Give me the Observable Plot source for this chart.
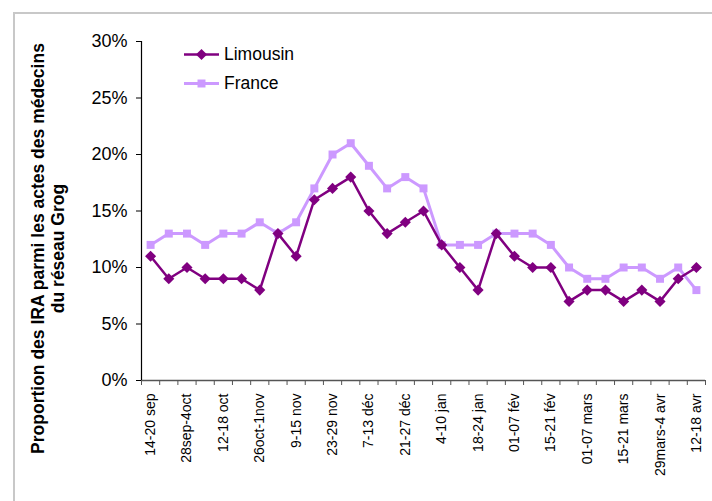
<!DOCTYPE html>
<html>
<head>
<meta charset="utf-8">
<script src="https://cdn.jsdelivr.net/npm/d3@7"></script>
<script src="https://cdn.jsdelivr.net/npm/@observablehq/plot@0.6"></script>
<style>
  html, body { margin: 0; padding: 0; background: #fff; overflow: hidden; }
  #wrap { position: relative; width: 712px; height: 501px; font-family: "Liberation Sans", Arial, sans-serif; }
  #frame { position: absolute; left: 13px; top: 12px; width: 760px; height: 560px; border: 2px solid #c8c8c8; box-sizing: border-box; }
  #chart { position: absolute; left: 0; top: 0; }
  #legend { position: absolute; left: 184px; top: 40px; font-size: 17.5px; color: #000; }
  .row { display: flex; align-items: center; height: 29px; }
  .row svg { margin-right: 5px; }
</style>
</head>
<body>
<div id="wrap"><div id="frame"></div><div id="chart"></div><div id="legend"></div></div>
<script>
// Weekly periods of the 2009-2010 season
const weeks = [
  "14-20 sep", "21-27 sep", "28sep-4oct", "5-11 oct", "12-18 oct", "19-25 oct",
  "26oct-1nov", "2-8 nov", "9-15 nov", "16-22 nov", "23-29 nov", "30nov-6 déc",
  "7-13 déc", "14-20 déc", "21-27 déc", "28déc-3 jan", "4-10 jan", "11-17 jan",
  "18-24 jan", "25-31 jan", "01-07 fév", "08-14 fév", "15-21 fév", "22-28 fév",
  "01-07 mars", "08-14 mars", "15-21 mars", "22-28 mars", "29mars-4 avr", "5-11 avr",
  "12-18 avr"
];

// Share of acute respiratory infections (%) among consultations
const limousin = [11, 9, 10, 9, 9, 9, 8, 13, 11, 16, 17, 18, 15, 13, 14, 15, 12, 10, 8, 13, 11, 10, 10, 7, 8, 8, 7, 8, 7, 9, 10];
const france   = [12, 13, 13, 12, 13, 13, 14, 13, 14, 17, 20, 21, 19, 17, 18, 17, 12, 12, 12, 13, 13, 13, 12, 10, 9, 9, 10, 10, 9, 10, 8];

const seriesNames  = ["Limousin", "France"];
const seriesColors = ["#800080", "#CC99FF"];
const seriesSymbols = ["diamond2", "square"];

const yTicks = [0, 5, 10, 15, 20, 25, 30];
const yTitle = "Proportion des IRA parmi les actes des médecins\ndu réseau Grog";

const font = '"Liberation Sans", Arial, sans-serif';

const limRows = limousin.map((v, i) => ({i, value: v}));
const frRows = france.map((v, i) => ({i, value: v}));
const labelIdx = weeks.map((w, i) => i).filter(i => i % 2 === 0);
const boundaries = d3.range(weeks.length + 1).map(k => k - 0.5);

const chart = Plot.plot({
  width: 712,
  height: 501,
  marginLeft: 141,
  marginRight: 7,
  marginTop: 41,
  marginBottom: 121,
  style: {fontFamily: font, background: "transparent", overflow: "visible", color: "#000"},
  x: {type: "linear", domain: [-0.5, weeks.length - 0.5]},
  y: {domain: [0, 30]},
  marks: [
    Plot.axisY({ticks: yTicks, tickSize: 5, tickPadding: 9, tickFormat: d => d + "%", fontSize: 18, label: null}),
    Plot.axisX({ticks: boundaries, tickSize: 5, tickFormat: () => "", label: null, stroke: "#555"}),
    Plot.axisX({ticks: labelIdx, tickSize: 0, tickPadding: 13, tickRotate: -90, tickFormat: i => weeks[i], fontSize: 14, label: null}),
    Plot.ruleY([0], {stroke: "#555", strokeWidth: 1.5}),
    Plot.ruleX([-0.5], {stroke: "#000", strokeWidth: 1.2}),
    Plot.line(frRows, {x: "i", y: "value", stroke: seriesColors[1], strokeWidth: 3}),
    Plot.dot(frRows, {x: "i", y: "value", symbol: seriesSymbols[1], r: 4.5, fill: seriesColors[1], stroke: "none"}),
    Plot.line(limRows, {x: "i", y: "value", stroke: seriesColors[0], strokeWidth: 2.5}),
    Plot.dot(limRows, {x: "i", y: "value", symbol: seriesSymbols[0], r: 5, fill: seriesColors[0], stroke: "none"}),
    Plot.text([yTitle], {
      text: d => d, frameAnchor: "left", textAnchor: "middle", dx: -94, dy: 37.5, rotate: -90,
      fontSize: 17.5, fontWeight: "bold", lineHeight: 1.14, fill: "#000"
    })
  ]
});
document.getElementById("chart").appendChild(chart);

// Legend: line swatch with marker, then series name
const legend = d3.select("#legend");
seriesNames.forEach((name, k) => {
  const row = legend.append("div").attr("class", "row");
  const sw = row.append("svg").attr("width", 35).attr("height", 29);
  sw.append("line").attr("x1", 0).attr("x2", 35).attr("y1", 14.5).attr("y2", 14.5)
    .attr("stroke", seriesColors[k]).attr("stroke-width", k === 0 ? 2.5 : 3);
  const sym = k === 0 ? d3.symbolDiamond2 : d3.symbolSquare;
  const size = k === 0 ? Math.PI * 25 : Math.PI * 4.5 * 4.5;
  sw.append("path").attr("d", d3.symbol(sym, size)()).attr("transform", "translate(17.5,14.5)")
    .attr("fill", seriesColors[k]);
  row.append("span").text(name);
});
</script>
</body>
</html>
